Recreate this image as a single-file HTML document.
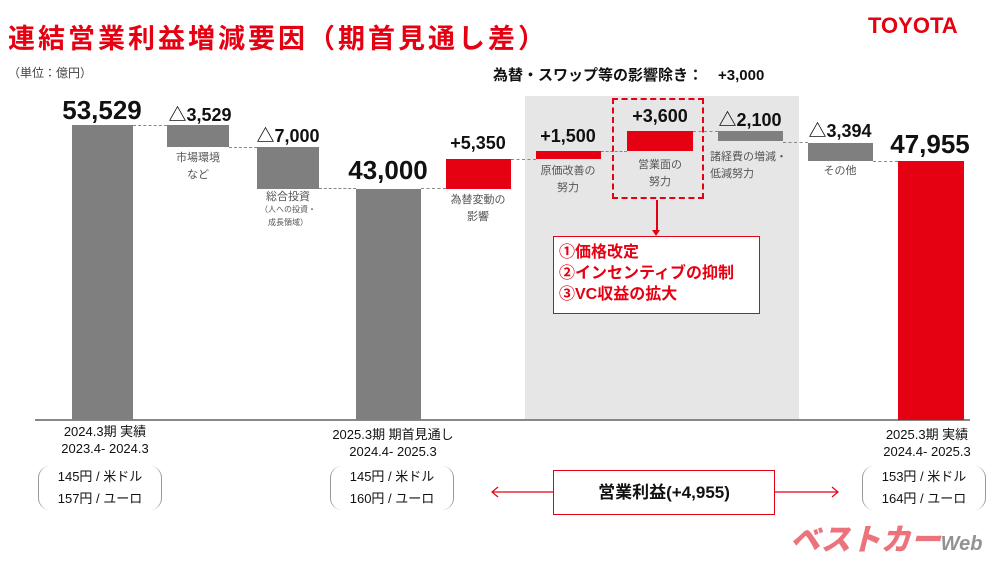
<!DOCTYPE html>
<html><head><meta charset="utf-8"><style>
body{margin:0;width:1000px;height:563px;background:#fff;position:relative;overflow:hidden;font-family:"Liberation Sans","Noto Sans CJK JP",sans-serif;color:#111}
.a{position:absolute}
.b{position:absolute;background:#7f7f7f}
.r{position:absolute;background:#e50012}
.n{position:absolute;font-weight:bold;white-space:nowrap;text-align:center}
.l{position:absolute;font-size:11px;color:#555;text-align:center;line-height:17px;white-space:nowrap}
.d{position:absolute;border-top:1.5px dashed #888;height:0}
.br{position:absolute;border:1px solid #999;border-top:none;border-bottom:none;border-radius:12px;font-size:13px;line-height:22px;padding:0 12px;text-align:center}
</style></head><body>
<div class="a" style="left:8px;top:17px;font-size:27px;font-weight:bold;color:#e50012;letter-spacing:3px">連結営業利益増減要因（期首見通し差）</div>
<div class="a" style="left:868px;top:13px;font-size:22px;font-weight:900;color:#e50012">TOYOTA</div>
<div class="a" style="left:8px;top:64px;font-size:12px;color:#444">（単位：億円）</div>
<div class="a" style="left:493px;top:64px;font-size:15px;font-weight:bold">為替・スワップ等の影響除き：　+3,000</div>
<div class="a" style="left:525px;top:96px;width:274px;height:324px;background:#e6e6e6"></div>
<div class="a" style="left:35px;top:419px;width:935px;height:1.5px;background:#888"></div>

<div class="b" style="left:72px;top:125px;width:61px;height:295px"></div>
<div class="b" style="left:167px;top:125px;width:62px;height:22px"></div>
<div class="b" style="left:257px;top:147px;width:62px;height:42px"></div>
<div class="b" style="left:356px;top:189px;width:65px;height:231px"></div>
<div class="r" style="left:446px;top:159px;width:65px;height:30px"></div>
<div class="r" style="left:536px;top:151px;width:65px;height:8px"></div>
<div class="r" style="left:627px;top:131px;width:66px;height:20px"></div>
<div class="b" style="left:718px;top:131px;width:65px;height:10px"></div>
<div class="b" style="left:808px;top:143px;width:65px;height:18px"></div>
<div class="r" style="left:898px;top:161px;width:66px;height:259px"></div>

<div class="d" style="left:133px;top:125px;width:34px"></div>
<div class="d" style="left:229px;top:147px;width:28px"></div>
<div class="d" style="left:319px;top:188px;width:37px"></div>
<div class="d" style="left:421px;top:188px;width:25px"></div>
<div class="d" style="left:511px;top:159px;width:25px"></div>
<div class="d" style="left:601px;top:151px;width:26px"></div>
<div class="d" style="left:693px;top:131px;width:25px"></div>
<div class="d" style="left:783px;top:142px;width:25px"></div>
<div class="d" style="left:873px;top:161px;width:25px"></div>

<div class="n" style="left:52px;top:95px;width:100px;font-size:26px">53,529</div>
<div class="n" style="left:150px;top:101px;width:100px;font-size:18px">△3,529</div>
<div class="n" style="left:238px;top:122px;width:100px;font-size:18px">△7,000</div>
<div class="n" style="left:338px;top:155px;width:100px;font-size:26px">43,000</div>
<div class="n" style="left:428px;top:133px;width:100px;font-size:18px">+5,350</div>
<div class="n" style="left:518px;top:126px;width:100px;font-size:18px">+1,500</div>
<div class="n" style="left:610px;top:106px;width:100px;font-size:18px">+3,600</div>
<div class="n" style="left:700px;top:106px;width:100px;font-size:18px">△2,100</div>
<div class="n" style="left:790px;top:117px;width:100px;font-size:18px">△3,394</div>
<div class="n" style="left:880px;top:129px;width:100px;font-size:26px">47,955</div>

<div class="l" style="left:148px;top:150px;width:100px">市場環境<br>など</div>
<div class="l" style="left:238px;top:191px;width:100px;line-height:12px">総合投資<br><span style="font-size:8px">（人への投資・<br>成長領域）</span></div>
<div class="l" style="left:428px;top:192px;width:100px">為替変動の<br>影響</div>
<div class="l" style="left:518px;top:163px;width:100px">原価改善の<br>努力</div>
<div class="l" style="left:610px;top:157px;width:100px">営業面の<br>努力</div>
<div class="l" style="left:710px;top:149px;width:90px;text-align:left">諸経費の増減・<br>低減努力</div>
<div class="l" style="left:790px;top:163px;width:100px">その他</div>

<div class="a" style="left:612px;top:98px;width:92px;height:101px;border:2px dashed #e50012;box-sizing:border-box"></div>
<div class="a" style="left:656px;top:200px;width:1.5px;height:32px;background:#e50012"></div>
<div class="a" style="left:652px;top:230px;border-left:4px solid transparent;border-right:4px solid transparent;border-top:6px solid #e50012"></div>
<div class="a" style="left:553px;top:236px;width:207px;height:78px;border:1px solid #e50012;box-sizing:border-box;background:#fff;color:#e50012;font-weight:bold;font-size:16px;line-height:21px;padding:5px 0 0 5px">①価格改定<br>②インセンティブの抑制<br>③VC収益の拡大</div>

<div class="a" style="left:40px;top:423px;width:130px;text-align:center;font-size:13px;line-height:17px">2024.3期 実績<br>2023.4- 2024.3</div>
<div class="br" style="left:38px;top:466px;width:98px">145円 / 米ドル<br>157円 / ユーロ</div>
<div class="a" style="left:318px;top:426px;width:150px;text-align:center;font-size:13px;line-height:17px">2025.3期 期首見通し<br>2024.4- 2025.3</div>
<div class="br" style="left:330px;top:466px;width:98px">145円 / 米ドル<br>160円 / ユーロ</div>
<div class="a" style="left:862px;top:426px;width:130px;text-align:center;font-size:13px;line-height:17px">2025.3期 実績<br>2024.4- 2025.3</div>
<div class="br" style="left:862px;top:466px;width:98px">153円 / 米ドル<br>164円 / ユーロ</div>

<div class="a" style="left:553px;top:470px;width:222px;height:45px;border:1px solid #e50012;box-sizing:border-box;text-align:center;line-height:43px;font-size:17px;font-weight:bold">営業利益(+4,955)</div>
<svg class="a" style="left:488px;top:485px" width="355" height="14"><g stroke="#e50012" stroke-width="1.2" fill="none"><line x1="4" y1="7" x2="65" y2="7"/><polyline points="10,2 4,7 10,12"/><line x1="287" y1="7" x2="350" y2="7"/><polyline points="344,2 350,7 344,12"/></g></svg>
<div class="a" style="left:790px;top:515px;font-size:30px;font-weight:900;font-style:italic;color:#e8505b;opacity:.8">ベストカー<span style="font-size:20px;color:#777">Web</span></div>
</body></html>
